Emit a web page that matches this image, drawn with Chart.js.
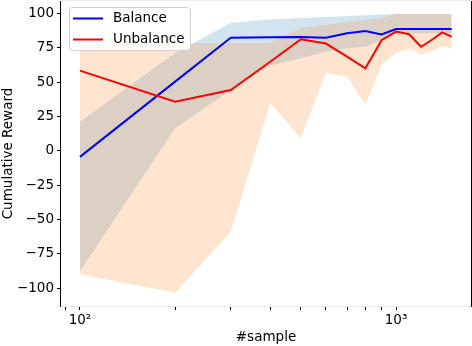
<!DOCTYPE html>
<html>
<head>
<meta charset="utf-8">
<script src="https://cdn.jsdelivr.net/npm/chart.js@4.4.0/dist/chart.umd.min.js"></script>
<style>
  html, body { margin: 0; padding: 0; background: #fff; }
</style>
</head>
<body>
<canvas id="chart" width="472" height="346"></canvas>
<script>
// values
var samples = [100, 200, 300, 400, 500, 600, 700, 800, 900, 1000, 1100, 1200, 1300, 1400, 1500];

var balanceMean = [-4.5, 50.3, 82.3, 82.6, 82.8, 82.2, 85.5, 87.2, 84.6, 88.6, 88.6, 88.6, 88.6, 88.6, 88.6];
var balanceLow = [-88, 16.3, 44, 62, 67.3, 72.1, 74.6, 75.7, 80.6, 85.5, 85.5, 85.5, 85.5, 85.5, 85.5];
var balanceHigh = [21.1, 71.2, 93.2, 95.5, 96.6, 97.3, 98, 98.6, 99.1, 99.6, 99.6, 99.6, 99.6, 99.6, 99.6];

var unbalanceMean = [58.3, 35.7, 44.2, 64.8, 81.1, 78, 68.5, 60, 80.5, 86.7, 84.8, 75.7, 80.8, 86.1, 83];
var unbalanceLow = [-90, -103.4, -59, 34.5, 9, 56.5, 54, 33.3, 63, 71, 74.5, 70, 72.5, 76, 74.6];
var unbalanceHigh = [78.4, 78.4, 78.4, 78.4, 89.4, 91.5, 93.7, 95.2, 96.6, 99.6, 99.6, 99.6, 99.6, 99.6, 99.6];

var seriesNames = ["Balance", "Unbalance"];
var xTicks = [90, 100, 200, 300, 400, 500, 600, 700, 800, 900, 1000];
var yTicks = [-100, -75, -50, -25, 0, 25, 50, 75, 100];

var FONT = "'DejaVu Sans', sans-serif";

function pts(vals) {
    return samples.map(function (s, i) { return { x: s, y: vals[i] }; });
}

function bandSet(vals, fillTo, color, order) {
    return {
        data: pts(vals),
        borderColor: 'rgba(0,0,0,0)',
        borderWidth: 0,
        pointRadius: 0,
        backgroundColor: color,
        fill: fillTo,
        order: order,
        tension: 0
    };
}

function sup(n) {
    var s = { '0': '⁰', '1': '¹', '2': '²', '3': '³', '4': '⁴', '5': '⁵', '6': '⁶', '7': '⁷', '8': '⁸', '9': '⁹' };
    return String(n).split('').map(function (c) { return s[c]; }).join('');
}

// spines: left/right black, top/bottom pale like the reference
var spines = {
    id: 'spines',
    afterDraw: function (chart) {
        var a = chart.chartArea, ctx = chart.ctx;
        ctx.save();
        ctx.lineWidth = 1;
        ctx.strokeStyle = '#ebebeb';
        ctx.beginPath();
        ctx.moveTo(a.left, a.top - 0.5); ctx.lineTo(a.right, a.top - 0.5);
        ctx.moveTo(a.left, a.bottom + 0.5); ctx.lineTo(a.right, a.bottom + 0.5);
        ctx.stroke();
        ctx.strokeStyle = '#000';
        ctx.beginPath();
        ctx.moveTo(a.left - 0.5, a.top); ctx.lineTo(a.left - 0.5, a.bottom + 1);
        ctx.moveTo(a.right + 0.5, a.top); ctx.lineTo(a.right + 0.5, a.bottom + 1);
        ctx.stroke();
        ctx.restore();
    }
};

// matplotlib style legend box in the upper left
var boxLegend = {
    id: 'boxLegend',
    afterDraw: function (chart) {
        var ctx = chart.ctx, a = chart.chartArea;
        var x = a.left + 8.5, y = 7.5, w = 121, h = 43, r = 3;
        ctx.save();
        ctx.beginPath();
        ctx.moveTo(x + r, y);
        ctx.arcTo(x + w, y, x + w, y + h, r);
        ctx.arcTo(x + w, y + h, x, y + h, r);
        ctx.arcTo(x, y + h, x, y, r);
        ctx.arcTo(x, y, x + w, y, r);
        ctx.closePath();
        ctx.fillStyle = 'rgba(255,255,255,0.8)';
        ctx.fill();
        ctx.strokeStyle = '#d0d0d0';
        ctx.lineWidth = 1;
        ctx.stroke();
        ctx.font = '13.5px ' + FONT;
        ctx.textBaseline = 'middle';
        ctx.fillStyle = '#000';
        [0, 1].forEach(function (di, k) {
            var ds = chart.data.datasets[di];
            var yy = 18.5 + k * 21;
            ctx.strokeStyle = ds.borderColor;
            ctx.lineWidth = 2;
            ctx.beginPath();
            ctx.moveTo(73, yy); ctx.lineTo(103, yy);
            ctx.stroke();
            ctx.fillText(ds.label, 113, yy);
        });
        ctx.restore();
    }
};

var chart = new Chart(document.getElementById('chart'), {
    type: 'line',
    data: {
        datasets: [
            { label: seriesNames[0], data: pts(balanceMean), borderColor: '#0000ff', borderWidth: 2, pointRadius: 0, fill: false, order: 1, tension: 0 },
            { label: seriesNames[1], data: pts(unbalanceMean), borderColor: '#ff0000', borderWidth: 2, pointRadius: 0, fill: false, order: 0, tension: 0 },
            bandSet(balanceLow, false, 'rgba(0,0,0,0)', 3),
            bandSet(balanceHigh, 2, 'rgba(31,119,180,0.2)', 3),
            bandSet(unbalanceLow, false, 'rgba(0,0,0,0)', 2),
            bandSet(unbalanceHigh, 4, 'rgba(255,127,14,0.2)', 2)
        ]
    },
    options: {
        responsive: false,
        animation: false,
        layout: { padding: { top: 1, right: 1, left: 0, bottom: 0 } },
        plugins: {
            legend: { display: false },
            tooltip: { enabled: false }
        },
        scales: {
            x: {
                type: 'logarithmic',
                min: 87.1,
                max: 1727,
                afterBuildTicks: function (scale) {
                    scale.ticks = xTicks.map(function (v) { return { value: v }; });
                },
                afterFit: function (scale) {
                    scale.height = 40;
                    scale.paddingLeft = 0;
                    scale.paddingRight = 0;
                },
                ticks: {
                    autoSkip: false,
                    maxRotation: 0,
                    padding: 2,
                    color: '#000',
                    font: { family: FONT, size: 13.5 },
                    callback: function (value) {
                        var e = Math.log10(value);
                        return Math.abs(e - Math.round(e)) < 1e-9 ? '10' + sup(Math.round(e)) : '';
                    }
                },
                grid: { display: true, drawOnChartArea: false, drawTicks: true, tickLength: 4, tickColor: '#000' },
                border: { display: false },
                title: { display: true, text: '#sample', color: '#000', font: { family: FONT, size: 13.5 }, padding: 0 }
            },
            y: {
                type: 'linear',
                min: -113.1,
                max: 109,
                afterBuildTicks: function (scale) {
                    scale.ticks = yTicks.map(function (v) { return { value: v }; });
                },
                afterFit: function (scale) {
                    scale.width = 61;
                    scale.paddingTop = 0;
                    scale.paddingBottom = 0;
                },
                ticks: {
                    padding: 3,
                    color: '#000',
                    font: { family: FONT, size: 13.5 },
                    callback: function (value) { return String(value).replace('-', '\u2212'); }
                },
                grid: { display: true, drawOnChartArea: false, drawTicks: true, tickLength: 4, tickColor: '#000' },
                border: { display: false },
                title: { display: true, text: 'Cumulative Reward', color: '#000', font: { family: FONT, size: 13.5 }, padding: 0 }
            }
        }
    },
    plugins: [spines, boxLegend]
});
</script>
</body>
</html>
